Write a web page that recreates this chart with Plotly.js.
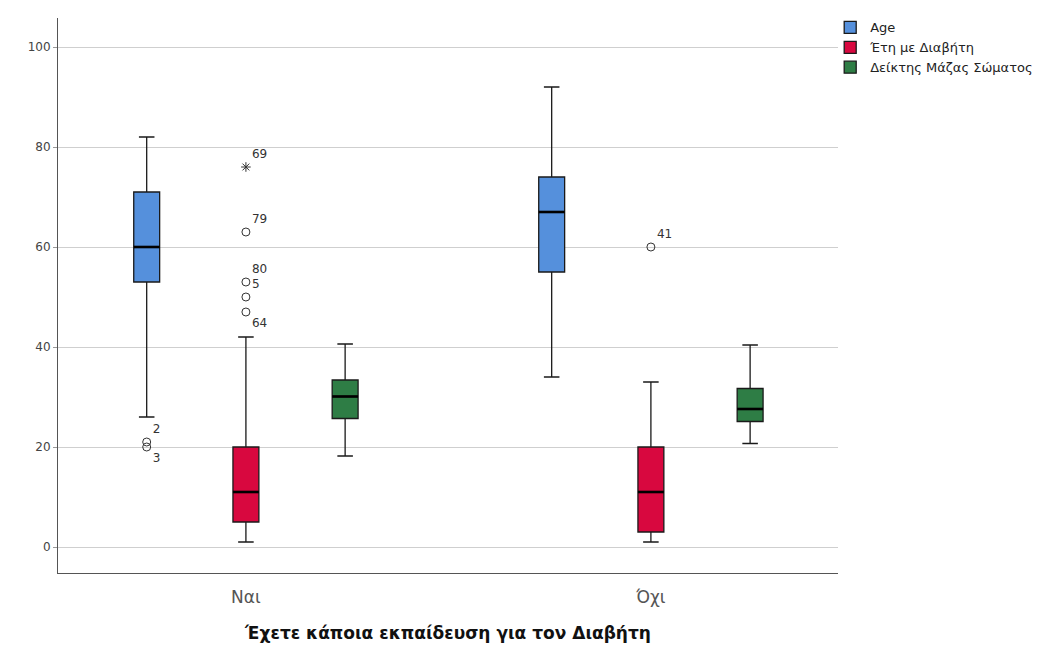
<!DOCTYPE html>
<html>
<head>
<meta charset="utf-8">
<script src="https://cdn.plot.ly/plotly-3.0.1.min.js"></script>
<style>html,body{margin:0;padding:0;background:#fff;}#chart{width:1058px;height:657px;}</style>
</head>
<body>
<div id="chart"></div>
<script>
// Categories (x axis)
const categories = ['Ναι', 'Όχι'];
const seriesNames = ['Age', 'Έτη με Διαβήτη', 'Δείκτης Μάζας Σώματος'];
const seriesColors = ['#5590dc', '#d8083f', '#2e7d45'];

// Box statistics per series, one value per category [Ναι, Όχι]
const ageLower  = [26, 34];
const ageQ1     = [53, 55];
const ageMedian = [60, 67];
const ageQ3     = [71, 74];
const ageUpper  = [82, 92];

const etesLower  = [1, 1];
const etesQ1     = [5, 3];
const etesMedian = [11, 11];
const etesQ3     = [20, 20];
const etesUpper  = [42, 33];

const bmiLower  = [18.2, 20.7];
const bmiQ1     = [25.7, 25.1];
const bmiMedian = [30.1, 27.6];
const bmiQ3     = [33.4, 31.7];
const bmiUpper  = [40.6, 40.4];

// Outliers (category index, value, case label)
const ageOutCat   = [0, 0];
const ageOutY     = [21, 20];
const ageOutLabel = ['2', '3'];

const etesOutCat   = [0, 0, 0, 0, 1];
const etesOutY     = [63, 53, 50, 47, 60];
const etesOutLabel = ['79', '80', '5', '64', '41'];

const etesExtCat   = [0];
const etesExtY     = [76];
const etesExtLabel = ['69'];

// layout helpers
const groupOffsets = [-0.245, 0, 0.245];
const boxWidth = 0.064;
const catIdx = categories.map((c, i) => i);
const pos = (cats, s) => cats.map(i => i + groupOffsets[s]);
const FONT = 'DejaVu Sans, Verdana, sans-serif';

const stats = [
  [ageLower, ageQ1, ageMedian, ageQ3, ageUpper],
  [etesLower, etesQ1, etesMedian, etesQ3, etesUpper],
  [bmiLower, bmiQ1, bmiMedian, bmiQ3, bmiUpper]
];

const traces = stats.map((st, s) => ({
  type: 'box',
  name: seriesNames[s],
  x: pos(catIdx, s),
  lowerfence: st[0], q1: st[1], median: st[2], q3: st[3], upperfence: st[4],
  width: boxWidth,
  whiskerwidth: 0.6,
  fillcolor: seriesColors[s],
  line: {color: '#1a1a1a', width: 1.3},
  marker: {color: seriesColors[s]},
  hoverinfo: 'y',
  showlegend: true
}));

// thick median lines (SPSS style)
stats.forEach((st, s) => {
  const xs = [], ys = [];
  pos(catIdx, s).forEach((xc, i) => {
    xs.push(xc - boxWidth / 2, xc + boxWidth / 2, null);
    ys.push(st[2][i], st[2][i], null);
  });
  traces.push({type: 'scatter', mode: 'lines', x: xs, y: ys, showlegend: false,
               line: {color: '#000', width: 2.6}, hoverinfo: 'skip'});
});

const labelFont = (n) => ({family: FONT, size: 12, color: Array(n).fill('#333')});

traces.push({
  type: 'scatter', mode: 'markers+text', showlegend: false,
  x: pos(ageOutCat, 0), y: ageOutY, text: ageOutLabel,
  textposition: ['top right', 'bottom right'],
  textfont: labelFont(ageOutY.length),
  marker: {symbol: 'circle-open', size: 8, color: '#333', line: {width: 1}},
  cliponaxis: false
});
traces.push({
  type: 'scatter', mode: 'markers+text', showlegend: false,
  x: pos(etesOutCat, 1), y: etesOutY, text: etesOutLabel,
  textposition: ['top right', 'top right', 'top right', 'bottom right', 'top right'],
  textfont: labelFont(etesOutY.length),
  marker: {symbol: 'circle-open', size: 8, color: '#333', line: {width: 1}},
  cliponaxis: false
});
traces.push({
  type: 'scatter', mode: 'markers+text', showlegend: false,
  x: pos(etesExtCat, 1), y: etesExtY, text: etesExtLabel,
  textposition: ['top right'],
  textfont: labelFont(etesExtY.length),
  marker: {symbol: 'asterisk-open', size: 8, color: '#333', line: {width: 1, color: '#333'}},
  cliponaxis: false
});

const layout = {
  width: 1058, height: 657,
  margin: {l: 58, r: 220, t: 18, b: 84},
  paper_bgcolor: '#fff', plot_bgcolor: '#fff',
  font: {family: FONT, color: '#333'},
  showlegend: true,
  legend: {x: 0.99, y: 1.01, xanchor: 'left', yanchor: 'top',
           font: {size: 13, color: '#222', family: FONT}, tracegroupgap: 0, itemwidth: 30,
           bgcolor: 'rgba(0,0,0,0)'},
  xaxis: {
    range: [-0.464, 1.462],
    tickmode: 'array', tickvals: catIdx, ticktext: categories,
    tickfont: {size: 17, color: '#555', family: FONT},
    showgrid: false, zeroline: false,
    showline: true, linecolor: '#555', linewidth: 1,
    ticks: 'outside', ticklen: 9, tickcolor: 'rgba(0,0,0,0)',
    title: {text: 'Έχετε κάποια εκπαίδευση για τον Διαβήτη',
            font: {size: 17, color: '#111', family: FONT, weight: 'bold'},
            standoff: 20}
  },
  yaxis: {
    range: [-5.2, 105.8],
    tickvals: [0, 20, 40, 60, 80, 100],
    tickfont: {size: 12, color: '#444', family: FONT},
    showgrid: true, gridcolor: '#cfcfcf', gridwidth: 1,
    zeroline: false,
    showline: true, linecolor: '#555', linewidth: 1,
    ticks: 'outside', ticklen: 4, tickcolor: '#999'
  },
  hovermode: false
};

Plotly.newPlot('chart', traces, layout, {displayModeBar: false, staticPlot: true});
</script>
</body>
</html>
